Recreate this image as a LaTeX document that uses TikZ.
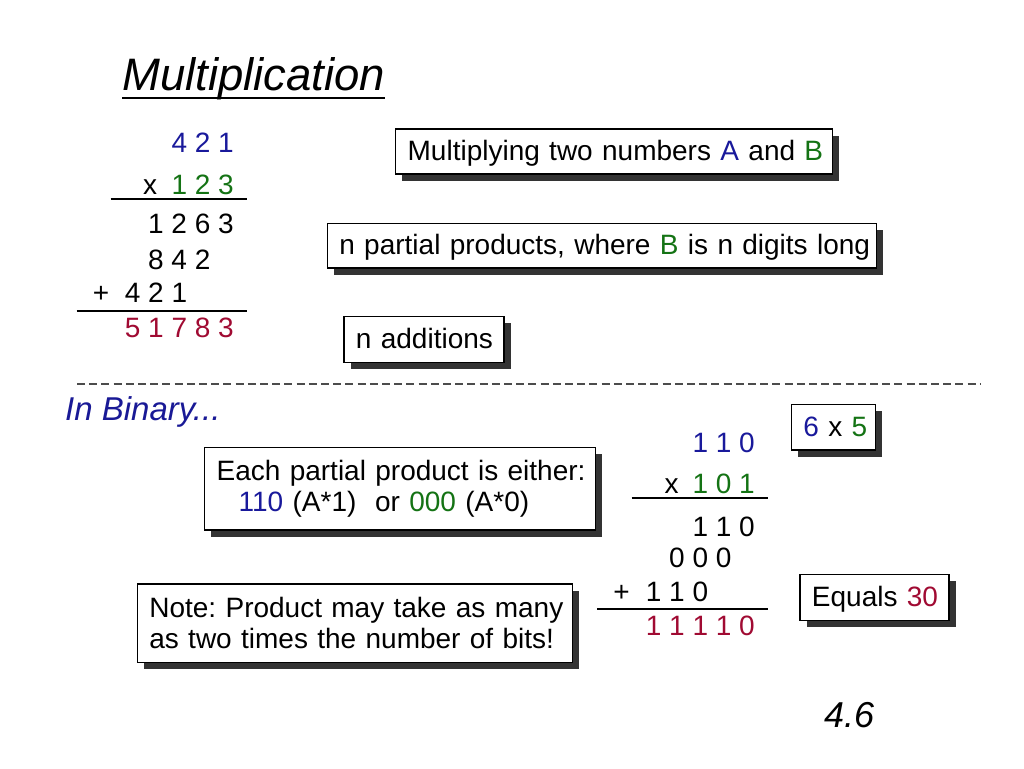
\documentclass[tikz,border=0pt]{standalone}
\usepackage{fontspec}
\setmainfont{Liberation Sans}
\usetikzlibrary{shadows}
\definecolor{numA}{RGB}{25,25,155}
\definecolor{numB}{RGB}{20,115,20}
\definecolor{numC}{RGB}{160,10,50}
\definecolor{headblue}{RGB}{25,25,150}
\frenchspacing
\begin{document}
\begin{tikzpicture}[x=1pt,y=-1pt,
  txt/.style={font=\fontsize{28}{30.6}\selectfont, inner sep=0pt},
  box/.style={draw=black, line width=1.3pt, fill=white, anchor=north west,
    inner xsep=12pt, inner ysep=0pt, align=left,
    font=\fontsize{28}{30.6}\selectfont,
    drop shadow={shadow xshift=6.7pt, shadow yshift=-6.7pt, fill=black!80, opacity=1}},
  oneline/.style={text height=22pt, text depth=4pt},
  sumrule/.style={line width=2pt},
]
\useasboundingbox[fill=white] (0,0) rectangle (1024,768);

% title
\node[txt, anchor=base west, font=\fontsize{45.5}{54}\selectfont\itshape] (title) at (122,90) {Multiplication};
\draw[line width=2.5pt] ([yshift=-8pt]title.base west) -- ([yshift=-8pt]title.base east);

% decimal multiplication
\node[txt, anchor=base east, text=numA] (d1) at (234,152) {4 2 1};
\node[txt, anchor=base] (dx) at (150,194) {x};
\node[txt, anchor=base east, text=numB] (d2) at (234,194) {1 2 3};
\coordinate (dl1a) at (110.7,199.3);
\coordinate (dl1b) at (247,199.3);
\draw[sumrule] (dl1a) -- (dl1b);
\node[txt, anchor=base east] (d3) at (234,233) {1 2 6 3};
\node[txt, anchor=base east] (d4) at (234,269) {8 4 2\hphantom{\ 0}};
\node[txt, anchor=base] (dp) at (101,302.5) {+};
\node[txt, anchor=base east] (d5) at (234,302.5) {4 2 1\hphantom{\ 0\ 0}};
\coordinate (dl2a) at (76.7,311);
\coordinate (dl2b) at (247,311);
\draw[sumrule] (dl2a) -- (dl2b);
\node[txt, anchor=base east, text=numC] (d6) at (234,337) {5 1 7 8 3};

% boxes top
\node[box, oneline, minimum height=45pt, text width=412.7pt] (m1) at (395,128.3)
  {\mbox{Multiplying two numbers \textcolor{numA}{A} and \textcolor{numB}{B}}};
\node[box, oneline, minimum height=44.6pt, text width=525.3pt] (m2) at (326.7,222.7)
  {\mbox{n partial products, where \textcolor{numB}{B} is n digits long}};
\node[box, oneline, minimum height=45.7pt, text width=136pt] (m3) at (343.3,316)
  {\mbox{n additions}};

% separator
\coordinate (sepL) at (77,384);
\coordinate (sepR) at (980,384);
\draw[black!70, line width=1.5pt, dash pattern=on 8pt off 4.2pt] (sepL) -- (sepR);

\node[txt, anchor=base west, font=\fontsize{33}{40}\selectfont\itshape, text=headblue] (bin) at (65,420) {In Binary...};

% binary multiplication
\node[txt, anchor=base east, text=numA] (e1) at (755,452) {1 1 0};
\node[txt, anchor=base] (ex) at (671.5,493) {x};
\node[txt, anchor=base east, text=numB] (e2) at (755,493) {1 0 1};
\coordinate (el1a) at (631.7,498.3);
\coordinate (el1b) at (767.7,498.3);
\draw[sumrule] (el1a) -- (el1b);
\node[txt, anchor=base east] (e3) at (755,536.5) {1 1 0};
\node[txt, anchor=base east] (e4) at (755,567.7) {0 0 0\hphantom{\ 0}};
\node[txt, anchor=base] (ep) at (621.5,601) {+};
\node[txt, anchor=base east] (e5) at (755,601) {1 1 0\hphantom{\ 0\ 0}};
\coordinate (el2a) at (597,609.3);
\coordinate (el2b) at (767.7,609.3);
\draw[sumrule] (el2a) -- (el2b);
\node[txt, anchor=base east, text=numC] (e6) at (755,635) {1 1 1 1 0};

% boxes bottom
\node[box, oneline, minimum height=45.3pt, text width=60.3pt] (m4) at (790.7,404)
  {\mbox{\textcolor{numA}{6} x \textcolor{numB}{5}}};
\node[box, oneline, minimum height=46pt, text width=125pt] (m5) at (799.3,574)
  {\mbox{Equals \textcolor{numC}{30}}};
\node[box, minimum height=82.6pt, text width=367pt] (m6) at (204,446.7)
  {\mbox{Each partial product is either:}\\
   \mbox{\hspace*{22pt}\textcolor{numA}{110} (A*1)\ \ or \textcolor{numB}{000} (A*0)}};
\node[box, minimum height=78.4pt, text width=411pt] (m7) at (136.7,583.3)
  {\mbox{Note: Product may take as many}\\
   \mbox{as two times the number of bits!}};

\node[txt, anchor=base west, font=\fontsize{36}{42}\selectfont\itshape] (pg) at (824,727) {4.6};
\end{tikzpicture}
\end{document}
